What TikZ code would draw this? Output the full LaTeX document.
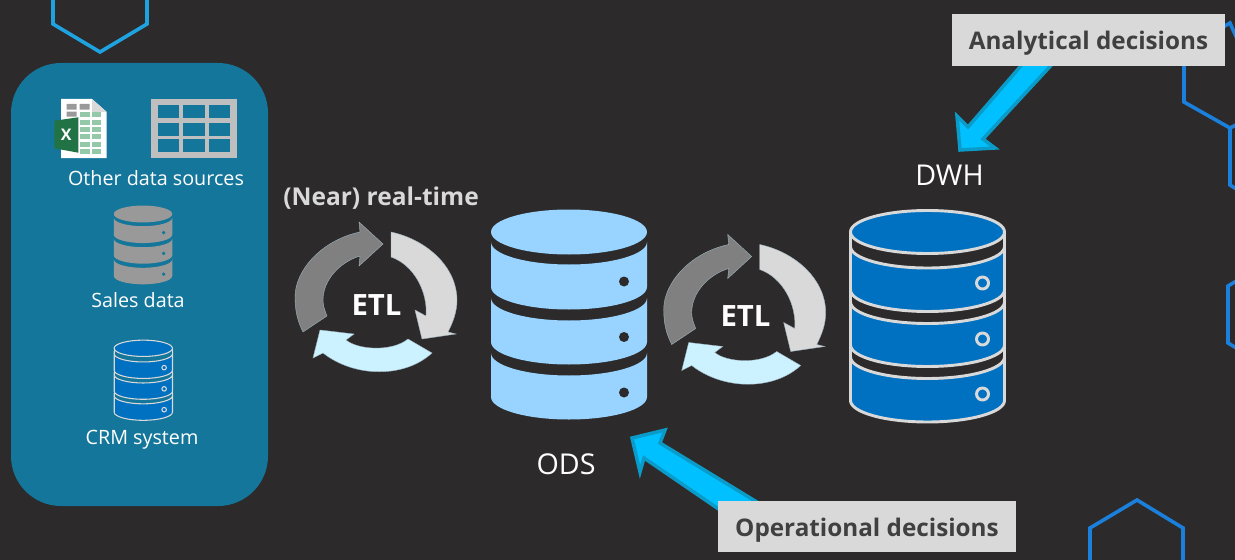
\documentclass[tikz,border=0pt]{standalone}
\usepackage{fontspec}
\setmainfont{Open Sans}
\definecolor{bgc}{HTML}{2C2A2A}
\definecolor{tealc}{HTML}{14769A}
\definecolor{hexa}{HTML}{1FA2E0}
\definecolor{hexb}{HTML}{1B7FDC}
\definecolor{odsc}{HTML}{99D3FF}
\definecolor{dwhc}{HTML}{0070C0}
\definecolor{lineg}{HTML}{D9D9D9}
\definecolor{salesc}{HTML}{999999}
\definecolor{arrowc}{HTML}{00C0FF}
\definecolor{arrowl}{HTML}{0A9BC8}
\definecolor{darkt}{HTML}{404040}
\definecolor{cyc1}{HTML}{808080}
\definecolor{cyc2}{HTML}{D9D9D9}
\definecolor{cyc3}{HTML}{CCF2FF}
\definecolor{cyce}{HTML}{9DB4C0}
\definecolor{cellg}{HTML}{BFBFBF}
\definecolor{xlg}{HTML}{217346}
\definecolor{xll}{HTML}{93C9A8}
\newcommand{\dbseg}[4]{% half-width, ry, top, bottom
  (-#1,#3) .. controls (-#1,{#3+0.55*#2}) and ({-0.55*#1},{#3+#2}) .. (0,{#3+#2})
  .. controls ({0.55*#1},{#3+#2}) and (#1,{#3+0.55*#2}) .. (#1,#3)
  -- (#1,#4) .. controls (#1,{#4+0.55*#2}) and ({0.55*#1},{#4+#2}) .. (0,{#4+#2})
  .. controls ({-0.55*#1},{#4+#2}) and (-#1,{#4+0.55*#2}) .. (-#1,#4) -- cycle}
\newcommand{\plaindb}[5]{% cx, cy, scale, fill, dot
  \begin{scope}[shift={(#1,#2)},scale=#3]
    \fill[#4] (0,0) ellipse [x radius=78,y radius=22.5];
    \fill[#4] \dbseg{78}{22.5}{10}{55};
    \fill[#4] \dbseg{78}{22.5}{66}{110};
    \fill[#4] \dbseg{78}{22.5}{121}{165};
    \foreach \yy in {49.5,105,160.5} \fill[#5] (55,\yy) circle [radius=5];
  \end{scope}}
\newcommand{\linedb}[4]{% cx, cy, scale, line width
  \begin{scope}[shift={(#1,#2)},scale=#3,draw=lineg,fill=dwhc,line width=#4]
    \filldraw (0,0) ellipse [x radius=77,y radius=21.5];
    \filldraw \dbseg{77}{21.5}{14.5}{58};
    \filldraw \dbseg{77}{21.5}{70}{113};
    \filldraw \dbseg{77}{21.5}{125}{168.5};
    \draw (-77,0) -- (-77,168.5) (77,0) -- (77,168.5);
    \foreach \yy in {51,107,162} \filldraw (55,\yy) circle [radius=6];
  \end{scope}}
\newcommand{\etlcycle}[2]{% x and y shift
  \begin{scope}[shift={(#1,#2)},draw=cyce,line width=.3pt,line join=miter]
    \filldraw[fill=cyc1] (303,332) .. controls (298,322) and (295,312) .. (295,297)
      .. controls (295,270) and (322,240) .. (360,232) -- (359,222) -- (383,244) -- (359,266) -- (360,256)
      .. controls (340,262) and (323,280) .. (323,300) .. controls (323,306) and (325,311) .. (327,316) -- cycle;
    \filldraw[fill=cyc2] (391,232) .. controls (428,240) and (457,268) .. (457,300)
      .. controls (457,312) and (453,322) .. (448,332) -- (456,334) -- (422,339) -- (415,310) -- (426,316)
      .. controls (428,292) and (414,265) .. (391,257) -- cycle;
    \filldraw[fill=cyc3] (313,358) -- (320,330) -- (354,334) -- (346,340)
      .. controls (358,350) and (392,352) .. (408,339) -- (432,353)
      .. controls (405,378) and (355,378) .. (323,353) -- cycle;
  \end{scope}}
\begin{document}
\begin{tikzpicture}[x=0.75pt,y=-0.75pt,
  hexl/.style={line width=2.7pt,line join=miter},
  captext/.style={text=white,inner sep=0pt,anchor=center},
  boldcap/.style={text=white,inner sep=0pt,anchor=center,font=\bfseries\fontsize{22}{24}\selectfont},
  lab/.style={fill=lineg,text=darkt,inner sep=0pt,text height=18.5pt,text depth=4pt,font=\bfseries\fontsize{18.2}{22}\selectfont},
  smalltxt/.style={captext,font=\fontsize{14.8}{17}\selectfont},
  bigtxt/.style={captext,font=\fontsize{21.5}{24}\selectfont},
  blockarrow/.style={fill=arrowc,draw=arrowl,line width=2.6pt,line join=miter}]
\useasboundingbox (0,0) rectangle (1235,560);
\fill[bgc] (0,0) rectangle (1235,560);
% hexagons
\draw[hexl,hexa] (53,-3) -- (53,24) -- (100,52) -- (147,24) -- (147,-3);
\draw[hexl,hexb] (1238,41) -- (1230,23) -- (1184,50) -- (1184,102) -- (1230,128) -- (1238,124);
\draw[hexl,hexb] (1230,128) -- (1230,185) -- (1238,190);
\draw[hexl,hexb] (1238,280) -- (1228,286) -- (1228,343) -- (1238,349);
\draw[hexl,hexb] (1090,563) -- (1090,528) -- (1137,500) -- (1183,528) -- (1183,563);
% source panel
\fill[tealc,rounded corners=37.5pt] (11,63) rectangle (268,506);
% excel icon
\fill[white] (61,99) -- (92,99) -- (106.7,112) -- (106.7,158) -- (61,158) -- cycle;
\fill[lineg] (92,99) -- (106.7,112) -- (92,112) -- cycle;
\fill[gray!80] (66.7,104) rectangle (76.7,109.5) (79.5,104) rectangle (89.5,109.5) (66.7,111.7) rectangle (76.7,116.7);
\foreach \yy in {112,119.5,127,134.3,141.6,149} {
  \fill[xll] (79.5,\yy) rectangle (89.5,\yy+5);
  \fill[xll] (91.7,\yy) rectangle (101,\yy+5);
}
\fill[xlg] (54.3,120.7) -- (78.3,117.3) -- (78.3,152.7) -- (54.3,148.3) -- cycle;
\node[text=white,inner sep=0pt,font=\bfseries\fontsize{12}{13}\selectfont] (xl) at (66.3,135) {X};
% table icon
\fill[cellg] (151,99) rectangle (236.7,158.3);
\foreach \cx in {157.7,183.3,209} \foreach \cy in {105.3,122.7,139.3}
  \fill[tealc] (\cx,\cy) rectangle +(21.3,13);
\node[smalltxt] (other) at (156,178) {Other data sources};
\plaindb{143}{214}{.375}{salesc}{tealc}
\node[smalltxt] (sales) at (138,300) {Sales data};
\linedb{143.3}{348.3}{.379}{.8pt}
\node[smalltxt] (crm) at (142,440) {CRM system};
% cycles
\etlcycle{0}{0}
\etlcycle{368.7}{12.5}
\node[boldcap] (etla) at (376.5,305) {ETL};
\node[boldcap] (etlb) at (745.5,316) {ETL};
\node[text=lineg,inner sep=0pt,font=\bfseries\fontsize{18.4}{22}\selectfont] (near) at (381,198) {(Near) real-time};
% databases
\plaindb{569}{232}{1}{odsc}{bgc}
\linedb{927.5}{232}{1}{2.2pt}
\node[bigtxt] (dwh) at (949.5,175) {DWH};
\node[bigtxt] (ods) at (566,464) {ODS};
% decision arrows
\draw[blockarrow] (1056,60) -- (1026,60) -- (968,127) -- (957,116) -- (960,150) -- (995,148) -- (983,139) -- cycle;
\draw[blockarrow] (770,510) -- (660,443) -- (665,430) -- (632,438) -- (640,472) -- (644,458) -- (720,510) -- cycle;
\node[lab,minimum width=204.75pt,minimum height=39pt] (anlab) at (1088.5,40) {Analytical decisions};
\node[lab,minimum width=223.5pt,minimum height=38.25pt] (oplab) at (867,526.5) {Operational decisions};
\end{tikzpicture}
\end{document}
